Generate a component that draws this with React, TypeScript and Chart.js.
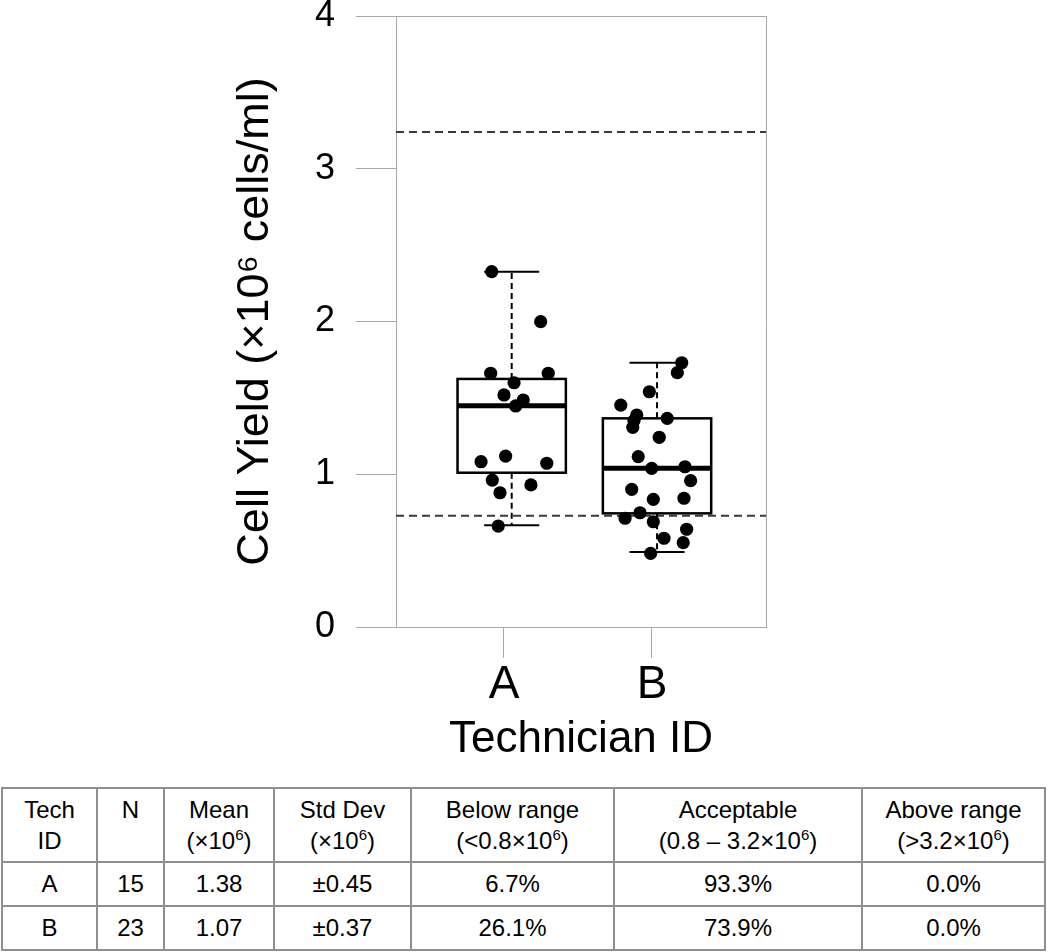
import React, { useEffect, useRef } from "react";
import { Chart, registerables } from "chart.js";

Chart.register(...registerables);

const FONT = "'Liberation Sans', Arial, Helvetica, sans-serif";

// ---- data ----
const categories = ["A", "B"];
const categoryPos = [1, 2];
const yTickValues = [0, 1, 2, 3, 4];

// jittered x positions (axis units) and yields (x10^6 cells/ml)
const techAX = [0.917, 1.248, 0.910, 1.299, 1.068, 1.0, 1.13, 1.079, 0.845, 1.011, 1.289, 0.921, 1.182, 0.973, 0.961];
const techAY = [2.326, 1.999, 1.661, 1.661, 1.599, 1.519, 1.486, 1.447, 1.082, 1.119, 1.072, 0.962, 0.93, 0.879, 0.661];

const techBX = [2.201, 2.171, 1.982, 1.789, 1.897, 1.87, 2.103, 2.049, 1.907, 1.998, 2.223, 2.261, 1.863, 2.009, 2.216, 1.919, 1.818, 2.009, 2.234, 2.081, 2.211, 1.991, 1.878];
const techBY = [1.73, 1.665, 1.54, 1.453, 1.388, 1.307, 1.366, 1.242, 1.115, 1.039, 1.049, 0.958, 0.901, 0.836, 0.843, 0.748, 0.712, 0.689, 0.64, 0.581, 0.552, 0.482, 1.35];

// box plot statistics
const boxX = [1.052, 2.034];
const whiskerLow = [0.666, 0.491];
const q1 = [1.01, 0.744];
const median = [1.449, 1.039];
const q3 = [1.624, 1.366];
const whiskerHigh = [2.326, 1.73];

// reference (acceptable range) lines
const refLines = [0.729, 3.24];

// table
const headTop = ["Tech", "N", "Mean", "Std Dev", "Below range", "Acceptable", "Above range"];
const headUnit = ["ID", "", "(×10", "(×10", "(<0.8×10", "(0.8 – 3.2×10", "(>3.2×10"];
const techIds = ["A", "B"];
const nValues = ["15", "23"];
const means = ["1.38", "1.07"];
const stdDevs = ["±0.45", "±0.37"];
const belowRange = ["6.7%", "26.1%"];
const acceptable = ["93.3%", "73.9%"];
const aboveRange = ["0.0%", "0.0%"];
const colWidths = [95, 67, 110, 137, 203, 248, 183];

const boxPlugin = {
  id: "boxPlots",
  beforeDatasetsDraw(chart: any) {
    const { ctx, chartArea, scales } = chart;
    const x = scales.x;
    const y = scales.y;
    const { left, right, top, bottom } = chartArea;
    ctx.save();
    // frame (top and right)
    ctx.strokeStyle = "#a8a8a8";
    ctx.lineWidth = 1;
    ctx.beginPath();
    ctx.moveTo(left, top + 0.5);
    ctx.lineTo(right + 0.5, top + 0.5);
    ctx.lineTo(right + 0.5, bottom);
    ctx.stroke();

    // reference lines
    ctx.strokeStyle = "#3a3a3a";
    ctx.lineWidth = 2;
    ctx.setLineDash([8, 5]);
    refLines.forEach((v) => {
      const py = y.getPixelForValue(v);
      ctx.beginPath();
      ctx.moveTo(left, py);
      ctx.lineTo(right, py);
      ctx.stroke();
    });

    // boxes
    ctx.strokeStyle = "#000";
    boxX.forEach((bx, i) => {
      const cx = x.getPixelForValue(bx);
      const hw = x.getPixelForValue(bx + 0.366) - cx;
      const cw = x.getPixelForValue(bx + 0.186) - cx;
      const pLo = y.getPixelForValue(whiskerLow[i]);
      const pQ1 = y.getPixelForValue(q1[i]);
      const pMed = y.getPixelForValue(median[i]);
      const pQ3 = y.getPixelForValue(q3[i]);
      const pHi = y.getPixelForValue(whiskerHigh[i]);

      // whiskers (dashed)
      ctx.lineWidth = 2;
      ctx.setLineDash([6, 4]);
      ctx.beginPath();
      ctx.moveTo(cx, pQ3);
      ctx.lineTo(cx, pHi);
      ctx.moveTo(cx, pQ1);
      ctx.lineTo(cx, pLo);
      ctx.stroke();

      // caps
      ctx.setLineDash([]);
      ctx.beginPath();
      ctx.moveTo(cx - cw, pHi);
      ctx.lineTo(cx + cw, pHi);
      ctx.moveTo(cx - cw, pLo);
      ctx.lineTo(cx + cw, pLo);
      ctx.stroke();

      // box
      ctx.lineWidth = 2.5;
      ctx.strokeRect(cx - hw, pQ3, hw * 2, pQ1 - pQ3);

      // median
      ctx.lineWidth = 5;
      ctx.beginPath();
      ctx.moveTo(cx - hw, pMed);
      ctx.lineTo(cx + hw, pMed);
      ctx.stroke();
    });
    ctx.restore();
  },
};

export default function App() {
  const ref = useRef<HTMLCanvasElement>(null);

  useEffect(() => {
    document.body.style.margin = "0";
    Chart.defaults.font.family = FONT;
    const chart = new Chart(ref.current as HTMLCanvasElement, {
      type: "scatter",
      data: {
        datasets: [
          {
            label: categories[0],
            data: techAX.map((v, i) => ({ x: v, y: techAY[i] })),
            backgroundColor: "#000",
            borderWidth: 0,
            pointRadius: 6.6,
          },
          {
            label: categories[1],
            data: techBX.map((v, i) => ({ x: v, y: techBY[i] })),
            backgroundColor: "#000",
            borderWidth: 0,
            pointRadius: 6.6,
          },
        ],
      },
      options: {
        animation: false,
        responsive: false,
        events: [],
        layout: { padding: { left: 0, right: 284, top: 16, bottom: 0 } },
        plugins: { legend: { display: false }, tooltip: { enabled: false } },
        scales: {
          x: {
            type: "linear",
            min: 0.2703,
            max: 2.7703,
            afterBuildTicks: (scale: any) => {
              scale.ticks = categoryPos.map((v) => ({ value: v }));
            },
            afterFit: (scale: any) => {
              scale.height = 148;
              scale.paddingLeft = 0;
              scale.paddingRight = 0;
            },
            ticks: {
              autoSkip: false,
              maxRotation: 0,
              padding: 0,
              color: "#000",
              font: { size: 46 },
              callback: (v: any) => {
                const i = categoryPos.indexOf(Number(v));
                return i >= 0 ? categories[i] : "";
              },
            },
            grid: { drawOnChartArea: false, drawTicks: true, tickLength: 31, color: "#a8a8a8" },
            border: { display: true, color: "#a8a8a8", width: 1 },
            title: {
              display: true,
              text: "Technician ID",
              color: "#000",
              font: { size: 44 },
              padding: { top: 0, bottom: 9 },
            },
          },
          y: {
            type: "linear",
            min: 0,
            max: 4,
            afterBuildTicks: (scale: any) => {
              scale.ticks = yTickValues.map((v) => ({ value: v }));
            },
            afterFit: (scale: any) => {
              scale.width = 396;
              scale.paddingTop = 0;
              scale.paddingBottom = 0;
            },
            ticks: {
              padding: 21,
              color: "#000",
              font: { size: 36 },
              callback: (v: any) => String(v),
            },
            grid: { drawOnChartArea: false, drawTicks: true, tickLength: 40, color: "#a8a8a8" },
            border: { display: true, color: "#a8a8a8", width: 1 },
            title: {
              display: true,
              text: "Cell Yield (×10⁶ cells/ml)",
              color: "#000",
              font: { size: 45 },
              padding: { top: 229, bottom: 0 },
            },
          },
        },
      },
      plugins: [boxPlugin],
    } as any);
    return () => chart.destroy();
  }, []);

  const cell: React.CSSProperties = {
    border: "2px solid #8f8f8f",
    textAlign: "center",
    verticalAlign: "middle",
    padding: 0,
    color: "#000",
  };
  const sup: React.CSSProperties = { fontSize: 15, position: "relative", top: -9, lineHeight: 0 };
  const rows = techIds.map((id, i) => [id, nValues[i], means[i], stdDevs[i], belowRange[i], acceptable[i], aboveRange[i]]);

  return (
    <div style={{ position: "relative", width: 1050, height: 952, background: "#fff", fontFamily: FONT }}>
      <canvas ref={ref} width={1050} height={775} style={{ display: "block" }} />
      <table
        style={{
          position: "absolute",
          left: 1,
          top: 787,
          borderCollapse: "collapse",
          tableLayout: "fixed",
          width: colWidths.reduce((a, b) => a + b, 0),
          fontSize: 24,
          fontFamily: FONT,
        }}
      >
        <colgroup>
          {colWidths.map((w, i) => (
            <col key={i} style={{ width: w }} />
          ))}
        </colgroup>
        <tbody>
          <tr style={{ height: 74 }}>
            {headTop.map((h, i) => (
              <td key={i} style={{ ...cell, lineHeight: "31px", verticalAlign: "top", paddingTop: 5 }}>
                <div>{h}</div>
                <div>
                  {i >= 2 ? (
                    <>
                      {headUnit[i]}
                      <span style={sup}>6</span>)
                    </>
                  ) : (
                    headUnit[i] || "\u00a0"
                  )}
                </div>
              </td>
            ))}
          </tr>
          {rows.map((r, ri) => (
            <tr key={ri} style={{ height: 44 }}>
              {r.map((c, ci) => (
                <td key={ci} style={cell}>
                  {c}
                </td>
              ))}
            </tr>
          ))}
        </tbody>
      </table>
    </div>
  );
}
